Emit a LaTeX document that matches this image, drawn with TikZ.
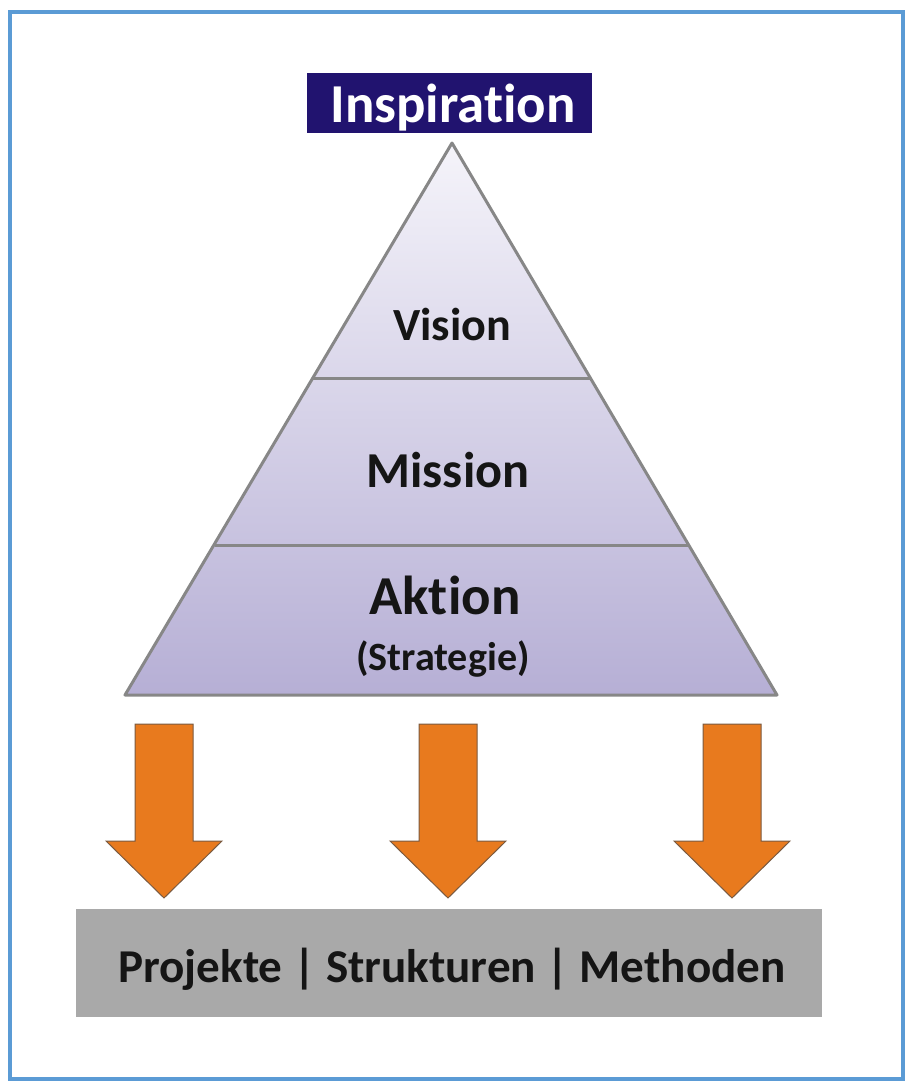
\documentclass[tikz,border=0pt]{standalone}
\usepackage{fontspec}
\setmainfont{Carlito}[Ligatures={NoCommon,NoRare}]
\usepackage{tikz}
\usetikzlibrary{shapes}
\definecolor{frameblue}{HTML}{5B9BD5}
\definecolor{inspnavy}{HTML}{21136F}
\definecolor{edgegray}{HTML}{878787}
\definecolor{pyrtop}{HTML}{F5F4FA}
\definecolor{pyrbottom}{HTML}{B6AFD5}
\definecolor{arroworange}{HTML}{E87A1E}
\definecolor{arrowedge}{HTML}{7A5A40}
\definecolor{boxgray}{HTML}{A9A9A9}
\definecolor{textdark}{HTML}{151515}

\begin{document}
\begin{tikzpicture}
                [
                x=0.01cm, y=-0.01cm,
                label/.style={font=\bfseries, text=textdark, inner sep=0, anchor=base},
                layer/.style={draw=edgegray, line width=0.03cm},
                blockarrow/.style={fill=arroworange, draw=arrowedge, line width=0.01cm}
                ]
            \useasboundingbox (0,0) rectangle (910,1090);
            \draw[frameblue, line width=0.04cm] (10,12) rectangle (903,1079);
            % pyramid
            \coordinate (apex) at (452,143);
            \coordinate (bl) at (125,695);
            \coordinate (br) at (777,695);
            \shade[top color=pyrtop, bottom color=pyrbottom] (apex) -- (bl) -- (br) -- cycle;
            \draw[layer, line join=round] (apex) -- (bl) -- (br) -- cycle;
            \draw[layer] (313,378) -- (591,378);
            \draw[layer] (215,545) -- (689,545);
            \node[fill=inspnavy, minimum width=2.85cm, minimum height=0.6cm, inner sep=0] (insp) at (449.5,103) {};
            \node[label, text=white, font=\bfseries\fontsize{15.6}{18}\selectfont] (t0) at (453,122) {Inspiration};
            \node[label, font=\bfseries\fontsize{13.1}{16}\selectfont] (t1) at (452,340) {Vision};
            \node[label, font=\bfseries\fontsize{14.3}{17}\selectfont] (t2) at (448,487) {Mission};
            \node[label, font=\bfseries\fontsize{15.6}{18}\selectfont] (t3) at (445,614) {Aktion};
            \node[label, font=\bfseries\fontsize{11.4}{14}\selectfont] (t4) at (443,670) {(Strategie)};
            % arrows
            \foreach \x in {164,448,732}
                \draw[blockarrow] (\x-29,724) -- (\x+29,724) -- (\x+29,841) -- (\x+58,841)
                    -- (\x,898) -- (\x-58,841) -- (\x-29,841) -- cycle;
            \node[fill=boxgray, minimum width=7.46cm, minimum height=1.07cm, inner sep=0] (bar) at (449,963) {};
            \node[label, font=\bfseries\fontsize{13.4}{16}\selectfont] (t5) at (452,982) {Projekte | Strukturen | Methoden};
            \end{tikzpicture}
\end{document}
